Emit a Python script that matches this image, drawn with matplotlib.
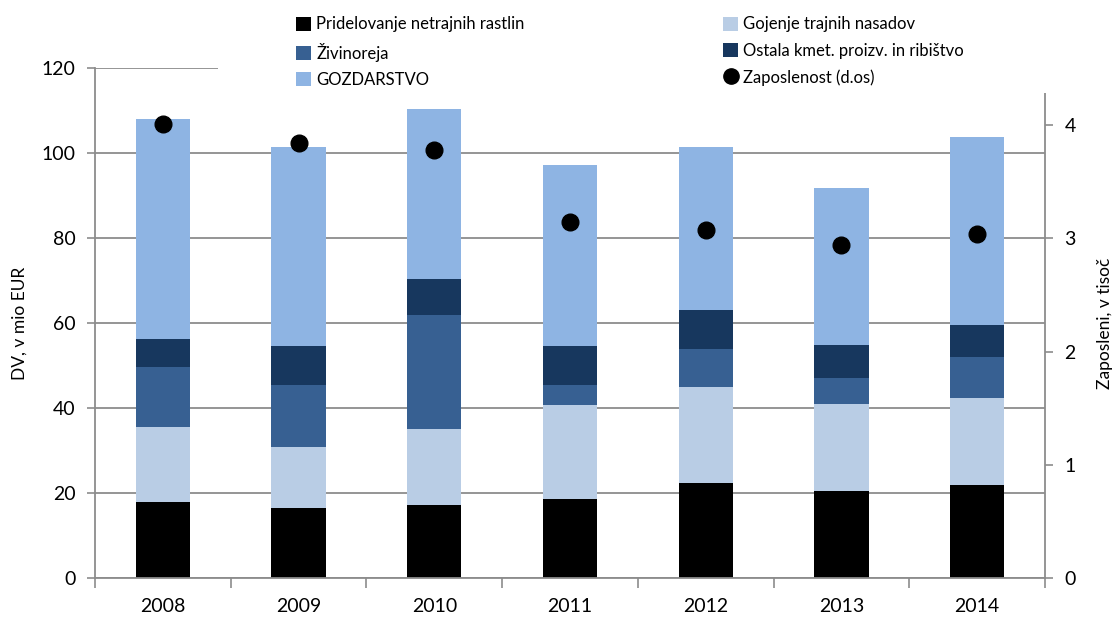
import matplotlib
matplotlib.use("Agg")
import matplotlib.pyplot as plt
from matplotlib.patches import Rectangle, Patch
from matplotlib.lines import Line2D
import numpy as np

plt.rcParams['font.family'] = ['Lato', 'DejaVu Sans']

years = ["2008", "2009", "2010", "2011", "2012", "2013", "2014"]
netrajne = [17.9, 16.6, 17.3, 18.7, 22.4, 20.6, 22.0]
trajni = [17.8, 14.2, 17.8, 22.1, 22.7, 20.3, 20.4]
zivinoreja = [13.9, 14.7, 26.9, 4.6, 8.8, 6.2, 9.6]
ostala = [6.7, 9.2, 8.4, 9.3, 9.2, 7.9, 7.7]
gozdarstvo = [51.8, 46.8, 40.0, 42.6, 38.4, 36.9, 44.1]
zaposlenost = [4.01, 3.84, 3.78, 3.14, 3.07, 2.94, 3.04]

series_names = ["Pridelovanje netrajnih rastlin", "Gojenje trajnih nasadov", "Živinoreja",
                "Ostala kmet. proizv. in ribištvo", "GOZDARSTVO"]
colors = ["#000000", "#B9CDE5", "#376092", "#17375E", "#8EB4E3"]
grey = "#8C8C8C"

fig = plt.figure(figsize=(11.18, 6.19), dpi=100)
ax = fig.add_axes([95/1118, 1 - 578.3/619, 950/1118, 510/619])
x = np.arange(len(years))
bottom = np.zeros(len(years))
data = [netrajne, trajni, zivinoreja, ostala, gozdarstvo]
for vals, c in zip(data, colors):
    ax.bar(x, vals, width=0.4, bottom=bottom, color=c, zorder=2, linewidth=0)
    bottom += np.array(vals)

ax.set_xlim(-0.5, 6.5)
ax.set_ylim(0, 120)
ax.set_yticks(np.arange(0, 121, 20))
ax.yaxis.grid(True, color=grey, linewidth=1.3, zorder=0)
ax.set_axisbelow(True)
ax.set_xticks(x)
ax.set_xticklabels(years, fontsize=14)
ax.set_xticks(np.arange(-0.5, 7, 1), minor=True)
ax.tick_params(axis='x', which='major', length=0, pad=14)
ax.tick_params(axis='x', which='minor', length=7, width=1.2, color=grey, direction='out')
ax.tick_params(axis='y', length=6, width=1.2, color=grey, direction='out', labelsize=14, pad=8)
for s in ['top', 'right']:
    ax.spines[s].set_visible(False)
for s in ['left', 'bottom']:
    ax.spines[s].set_color(grey)
    ax.spines[s].set_linewidth(1.3)
ax.set_ylabel("DV, v mio EUR", fontsize=12.5)
ax.yaxis.set_label_coords(-0.0705, 0.5)

ax2 = ax.twinx()
ax2.plot(x, zaposlenost, 'o', color='black', markersize=12, zorder=5)
ax2.set_ylim(0, 4.5)
ax2.set_yticks([0, 1, 2, 3, 4])
ax2.tick_params(axis='y', length=6, width=1.2, color=grey, direction='out', labelsize=14, pad=8)
for s in ['top', 'left', 'bottom']:
    ax2.spines[s].set_visible(False)
ax2.spines['right'].set_color(grey)
ax2.spines['right'].set_linewidth(1.3)
ax2.set_ylabel("Zaposleni, v tisoč", fontsize=12.5)
ax2.yaxis.set_label_coords(1.055, 0.5)

# white legend background covering the top of the plot area
fig.patches.append(Rectangle((218/1118, 1 - 93/619), (1047 - 218)/1118, 93/619,
                             transform=fig.transFigure, facecolor='white', edgecolor='none',
                             zorder=4))

handles = [Patch(facecolor=colors[0]), Patch(facecolor=colors[2]), Patch(facecolor=colors[4]),
           Patch(facecolor=colors[1]), Patch(facecolor=colors[3]),
           Line2D([], [], marker='o', linestyle='none', color='black', markersize=11)]
labels = [series_names[0], series_names[2], series_names[4],
          series_names[1], series_names[3], "Zaposlenost (d.os)"]
leg = fig.legend(handles, labels, loc='upper left', bbox_to_anchor=(288/1118, 1 - 8/619),
                 ncol=2, frameon=False, fontsize=12, handlelength=0.9, handleheight=0.9,
                 handletextpad=0.3, columnspacing=11.9, labelspacing=0.62, borderpad=0)
leg.set_zorder(5)

fig.savefig("out.png", dpi=100)
